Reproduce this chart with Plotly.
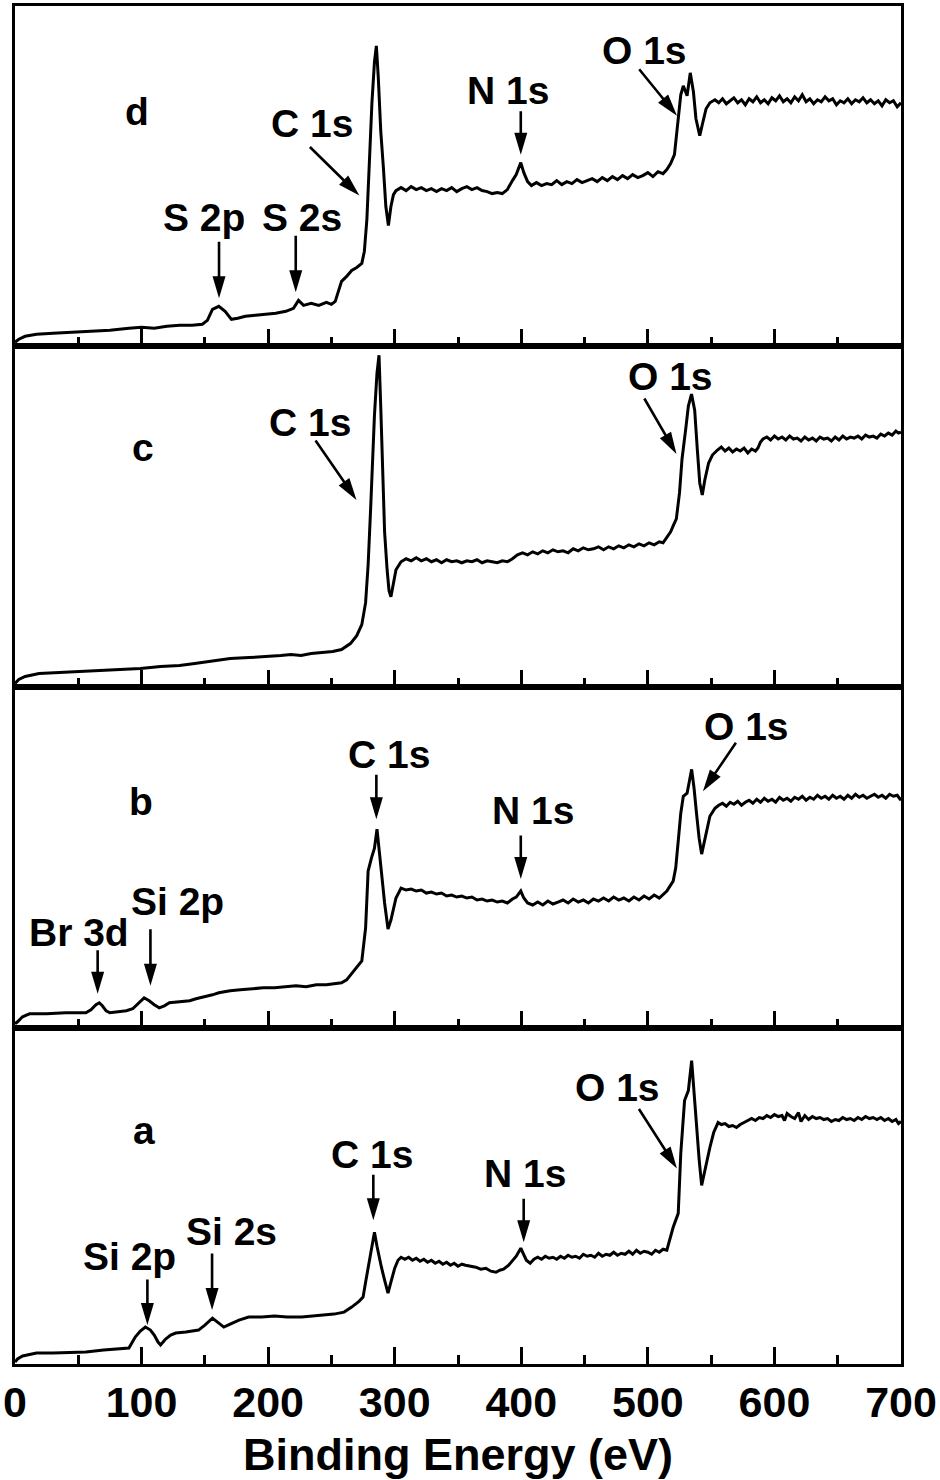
import math
import plotly.graph_objects as go
from plotly.subplots import make_subplots

# XPS survey spectra: (binding energy eV, intensity a.u.)
d_points = [
    (0, 4), (3, 7), (8, 10), (17, 12), (30, 13), (45, 14), (60, 15), (75, 16), (90, 18), (100, 19),
    (110, 18), (120, 20), (130, 21), (140, 21), (148, 22), (152, 26), (156, 37), (161, 40),
    (166, 35), (171, 27), (176, 28), (182, 30), (190, 31), (198, 32), (206, 33), (214, 35),
    (220, 38), (224, 46), (228, 41), (234, 43), (240, 41), (246, 44), (250, 42), (253, 45),
    (256, 58), (258, 65), (262, 70), (266, 76), (270, 79), (274, 83), (276, 95), (278, 127),
    (280, 185), (282, 244), (284, 285), (285.5, 301), (287, 270), (289, 215), (291, 180),
    (293, 140), (295, 121), (297, 140), (299, 152), (301, 156),
    (305, 159), (309, 156), (313, 160), (317, 157), (321, 159), (325, 156), (329, 158), (333, 155),
    (337, 158), (341, 156), (345, 159), (349, 155), (353, 158), (357, 160), (361, 157), (365, 159),
    (369, 156), (373, 155), (377, 153), (381, 154), (385, 153), (389, 157), (393, 166), (396, 172),
    (399.6, 184), (402, 174), (405, 165), (408, 161), (412, 164), (416, 161), (420, 163),
    (424, 162), (428, 166), (432, 162), (436, 165), (440, 163), (444, 167), (448, 164), (452, 166),
    (456, 168), (460, 165), (464, 169), (468, 166), (472, 170), (476, 167), (480, 171), (484, 168),
    (488, 172), (492, 169), (496, 171), (500, 174), (504, 170), (508, 175), (512, 173), (515, 177),
    (518, 183), (521, 192), (524, 231), (526, 252), (528, 261), (530, 254), (531, 251),
    (533.5, 274), (536, 255), (538, 228), (541, 211), (543, 222), (546, 238), (549, 244),
    (553, 247), (556, 244), (559, 248), (562, 243), (565, 246), (568, 249), (571, 244), (574, 247),
    (577, 242), (580, 248), (583, 245), (586, 250), (589, 244), (592, 247), (595, 243), (598, 249),
    (601, 246), (604, 251), (607, 245), (610, 248), (613, 244), (616, 250), (619, 246), (622, 252),
    (625, 245), (628, 248), (631, 243), (634, 247), (637, 245), (640, 250), (643, 246), (646, 248),
    (649, 242), (652, 246), (655, 244), (658, 248), (661, 243), (664, 247), (667, 245), (670, 249),
    (673, 244), (676, 247), (679, 243), (682, 246), (685, 241), (688, 247), (691, 244), (694, 246),
    (697, 240), (700, 244),
]

c_points = [
    (0, 4), (3, 8), (8, 11), (19, 14), (35, 15), (50, 16), (65, 17), (80, 18), (99, 19), (115, 21),
    (130, 22), (142, 24), (155, 26), (170, 29), (185, 30), (200, 31), (210, 32), (218, 33),
    (226, 32), (234, 34), (242, 35), (251, 36), (258, 38), (265, 44), (270, 52), (274, 63),
    (277, 85), (279, 123), (281, 180), (283, 240), (284, 273), (286, 315), (287.6, 333), (289, 280),
    (290.5, 215), (292, 156), (294, 118), (295.5, 97), (297, 91), (299, 105), (301, 118),
    (305, 126), (309, 129), (313, 127), (317, 130), (321, 127), (325, 129), (329, 126), (333, 128),
    (337, 125), (341, 128), (345, 126), (349, 127), (353, 125), (357, 127), (361, 126), (365, 128),
    (369, 125), (373, 127), (377, 126), (381, 125), (385, 127), (389, 126), (393, 129), (397, 133),
    (401, 135), (405, 133), (409, 136), (413, 134), (417, 137), (421, 135), (425, 138), (429, 136),
    (433, 137), (437, 135), (441, 139), (445, 137), (449, 140), (453, 138), (457, 139), (461, 141),
    (465, 138), (469, 141), (473, 139), (477, 142), (481, 140), (485, 143), (489, 141), (493, 144),
    (497, 142), (501, 145), (505, 143), (509, 146), (512, 145), (515, 150),
    (518, 156), (520, 162), (522.5, 169), (525, 195), (527, 229), (530, 260), (532, 282),
    (534.5, 294), (536, 285), (537, 278), (539, 240), (541, 205), (543, 193), (545, 208),
    (548, 225), (551, 233),
    (555, 238), (558, 241), (561, 237), (564, 240), (567, 236), (570, 239), (573, 237), (576, 240),
    (579, 235), (582, 239), (585, 237), (587, 240), (589, 246), (591, 249), (594, 251), (597, 248),
    (600, 252), (603, 249), (606, 251), (609, 248), (612, 252), (615, 249), (618, 250), (621, 247),
    (624, 251), (627, 248), (630, 250), (633, 247), (636, 251), (639, 249), (642, 250), (645, 247),
    (648, 251), (651, 248), (654, 252), (657, 249), (660, 251), (663, 250), (666, 252), (669, 249),
    (672, 253), (675, 251), (678, 252), (681, 250), (684, 254), (687, 252), (690, 255), (693, 253),
    (696, 257), (698, 255), (700, 256),
]

b_points = [
    (0, 4), (2, 6), (6, 11), (11.5, 14), (25, 14), (40, 15), (56, 15), (60, 18), (64, 23),
    (66.6, 25), (69, 22), (72, 17), (75, 15), (82, 16), (88, 17), (93, 19), (97, 24), (102, 30),
    (106, 27), (110, 23), (114, 20), (118, 22), (122, 25), (130, 26), (138, 27), (143, 29),
    (150, 31), (156, 33), (161, 35), (170, 37), (178, 38), (187, 39), (196, 40), (205, 40),
    (214, 41), (222, 42), (230, 41), (238, 43), (246, 43), (252, 44), (258, 45), (262, 48),
    (266, 54), (270, 60), (274, 67), (277, 100), (279, 157), (281.6, 170), (284, 180), (286, 199),
    (288, 177), (290, 150), (292, 125), (294.7, 99), (297, 108), (299, 120), (301, 130),
    (305, 140), (309, 138), (313, 139), (317, 137), (321, 138), (325, 135), (329, 136), (333, 134),
    (337, 135), (341, 132), (345, 133), (349, 131), (353, 132), (357, 130), (361, 131), (365, 128),
    (369, 129), (373, 127), (377, 128), (381, 126), (385, 127), (389, 125), (393, 129), (396, 131),
    (399.6, 137), (402, 130), (405, 125), (409, 123), (413, 126), (417, 123), (421, 127),
    (425, 124), (429, 126), (433, 128), (437, 125), (441, 129), (445, 126), (449, 128), (453, 125),
    (457, 129), (461, 127), (465, 130), (469, 127), (473, 131), (477, 128), (481, 130), (485, 127),
    (489, 131), (493, 128), (497, 132), (501, 129), (505, 133), (509, 130), (512, 134), (515, 137),
    (520, 147), (522, 160), (524, 187), (526, 215), (528, 232), (531, 235), (534.6, 259),
    (536.5, 240), (538.5, 214), (540.5, 190), (542.5, 174), (545, 190), (549, 212),
    (553, 220), (556, 223), (559, 225), (562, 222), (565, 226), (568, 224), (571, 227), (574, 223),
    (577, 226), (580, 228), (583, 225), (586, 229), (589, 226), (592, 230), (595, 227), (598, 229),
    (601, 226), (604, 231), (607, 228), (610, 230), (613, 227), (616, 231), (619, 229), (622, 232),
    (625, 228), (628, 231), (631, 229), (634, 233), (637, 230), (640, 232), (643, 229), (646, 233),
    (649, 230), (652, 232), (655, 229), (658, 233), (661, 230), (664, 234), (667, 231), (670, 233),
    (673, 230), (676, 232), (679, 234), (682, 231), (685, 233), (688, 230), (691, 234), (694, 232),
    (697, 233), (700, 228),
]

a_points = [
    (0, 2), (2, 5), (6, 8), (17, 11), (30, 11), (45, 12), (56, 12), (70, 14), (80, 15), (90, 16),
    (95, 27), (99, 33), (103, 37), (107, 34), (110, 29), (113, 22), (115, 19), (119, 25),
    (123, 29), (127, 31), (135, 32), (145, 34), (150, 39), (156, 46), (160, 42), (165, 37),
    (170, 40), (177, 44), (184.6, 47), (195, 47), (205, 48), (215, 47), (226.5, 47), (236, 48),
    (245, 49), (252, 50), (260, 52), (266, 57), (272, 63), (275, 67), (277, 82), (279, 97),
    (282, 120), (284, 132), (286, 118), (288, 104), (289.5, 97), (292, 84), (294.7, 71), (297, 82),
    (300, 96),
    (302.6, 104), (305, 107), (308, 105), (311, 107), (314, 104), (317, 106), (320, 103),
    (323, 105), (326, 102), (329, 104), (332, 101), (335, 103), (338, 100), (341, 102), (344, 99),
    (347, 101), (350, 98), (353, 100), (356, 99), (360, 98), (364, 97), (368, 95), (372, 96),
    (376, 93), (380, 92), (383, 94), (386, 95), (390, 99), (393, 103), (396, 108), (399.6, 116),
    (402, 109), (404, 104), (407, 101), (410, 105), (413, 107), (416, 105), (419, 108), (422, 106),
    (425, 107), (428, 105), (431, 108), (434, 106), (437, 109), (440, 107), (443, 108), (446, 106),
    (449, 110), (452, 108), (455, 109), (458, 107), (461, 111), (464, 108), (467, 110), (470, 109),
    (473, 112), (476, 109), (479, 111), (482, 110), (485, 113), (488, 110), (491, 114), (494, 111),
    (497, 113), (500, 112), (503, 110), (506, 114), (509, 112), (512, 115), (515, 114),
    (518, 128), (520, 137), (524, 151), (526, 211), (529, 264), (532, 274), (534.6, 304),
    (536.5, 270), (538.5, 234), (540.5, 205), (542.5, 179), (546, 200), (549, 217), (552, 232),
    (555.5, 242), (558, 240), (561, 241), (564, 238), (567, 239), (570, 237), (573, 240), (576, 242),
    (579, 244), (582, 246), (585, 244), (588, 247), (591, 246), (594, 249), (597, 247), (600, 250),
    (603, 248), (606, 249), (608, 244), (610, 251), (613, 248), (616, 246), (619, 252), (621, 243),
    (624, 249), (627, 245), (630, 248), (633, 246), (636, 247), (639, 245), (642, 246), (645, 243),
    (648, 245), (651, 244), (654, 247), (657, 245), (660, 246), (663, 244), (666, 247), (669, 245),
    (672, 248), (675, 246), (678, 247), (681, 245), (684, 247), (687, 244), (690, 246), (693, 243),
    (696, 245), (698, 241), (700, 243),
]

panels = [("d", d_points), ("c", c_points), ("b", b_points), ("a", a_points)]

# panel letters and peak labels: (row, text, x, y)
letters = [(1, "d", 96.7, 235), (2, "c", 101.5, 241), (3, "b", 99.9, 227), (4, "a", 102.2, 234)]
labels = [
    (1, "S 2p", 149.4, 129), (1, "S 2s", 226.5, 129), (1, "C 1s", 234.4, 223),
    (1, "N 1s", 389.3, 256), (1, "O 1s", 497.1, 296),
    (2, "C 1s", 232.8, 266), (2, "O 1s", 517.5, 312),
    (3, "Br 3d", 50.3, 95), (3, "Si 2p", 128.2, 127), (3, "C 1s", 295.7, 274),
    (3, "N 1s", 409.0, 218), (3, "O 1s", 578.1, 302),
    (4, "Si 2p", 90.4, 108), (4, "Si 2s", 170.7, 133), (4, "C 1s", 282.4, 210),
    (4, "N 1s", 402.7, 191), (4, "O 1s", 475.8, 277),
]
# arrows: (row, tip x, tip y, tail dx px, tail dy px)
arrows = [
    (1, 161.2, 48, 0, -58), (1, 221.8, 54, 0, -58), (1, 272.1, 151, -51, -50),
    (1, 399.6, 192, 0, -45), (1, 523.0, 231, -39, -48),
    (2, 269.8, 188, -42, -61), (2, 522.6, 234, -33, -57),
    (3, 65.3, 34, 0, -45), (3, 107.0, 42, 0, -58), (3, 285.5, 209, 0, -46),
    (3, 399.6, 149, 0, -45), (3, 543.5, 237, 34, -50),
    (4, 104.6, 39, 0, -47), (4, 155.7, 54, 0, -58), (4, 283.1, 144, 0, -47),
    (4, 401.9, 122, 0, -45), (4, 523.0, 196, -39, -61),
]

# panel heights in px (top to bottom), y range equals pixel height
heights = [341, 342, 341, 337]

FONT = "Liberation Sans, Arial, Helvetica, sans-serif"

fig = make_subplots(rows=4, cols=1, shared_xaxes=True, vertical_spacing=0)

for i, (name, pts) in enumerate(panels):
    ev = [p[0] for p in pts]
    inten = [p[1] for p in pts]
    fig.add_trace(go.Scatter(x=ev, y=inten, mode="lines", name=name,
                             line=dict(color="black", width=3)), row=i + 1, col=1)

total = sum(heights)
top = 1.0
for i, h in enumerate(heights):
    bottom = top - h / total
    fig.update_yaxes(domain=[max(bottom, 0), top], range=[0, h], row=i + 1, col=1)
    top = bottom

fig.update_yaxes(showticklabels=False, ticks="", showgrid=False, zeroline=False,
                 showline=True, linecolor="black", linewidth=3, mirror=True)
fig.update_xaxes(range=[0, 700], dtick=100, tick0=0, ticks="inside", ticklen=17, tickwidth=2.5,
                 tickcolor="black", showgrid=False, zeroline=False,
                 showline=True, linecolor="black", linewidth=3, mirror=True,
                 minor=dict(dtick=50, tick0=0, ticks="inside", ticklen=9, tickwidth=2.5,
                            tickcolor="black", showgrid=False),
                 tickfont=dict(family=FONT, size=43, color="black", weight="bold"))
fig.update_xaxes(title=dict(text="Binding Energy (eV)", standoff=14,
                            font=dict(family=FONT, size=45, color="black", weight="bold")),
                 ticklabelstandoff=-2, row=4, col=1)

for row, t, x, y in letters + labels:
    fig.add_annotation(x=x, y=y, xref="x%d" % row if row > 1 else "x",
                       yref="y%d" % row if row > 1 else "y", text=t, showarrow=False,
                       xanchor="center", yanchor="middle",
                       font=dict(family=FONT, size=39, color="black", weight="bold"))

HEAD_L, HEAD_W = 22, 6.5
for row, x, y, dx, dy in arrows:
    xr = "x%d" % row if row > 1 else "x"
    yr = "y%d" % row if row > 1 else "y"
    fig.add_annotation(x=x, y=y, xref=xr, yref=yr, ax=dx, ay=dy, text="", showarrow=True,
                       arrowhead=0, arrowwidth=2.6, arrowcolor="black", standoff=HEAD_L - 4)
    # filled head drawn in pixels around the tip (y up)
    n = math.hypot(dx, dy)
    ux, uy = -dx / n, dy / n
    px, py = -uy, ux
    bx, by = -ux * HEAD_L, -uy * HEAD_L
    path = "M 0 0 L %.1f %.1f L %.1f %.1f Z" % (bx + px * HEAD_W, by + py * HEAD_W,
                                              bx - px * HEAD_W, by - py * HEAD_W)
    fig.add_shape(type="path", xref=xr, yref=yr, xsizemode="pixel", ysizemode="pixel",
                  xanchor=x, yanchor=y, path=path, fillcolor="black", line=dict(width=0))

fig.update_layout(width=940, height=1480, showlegend=False,
                  margin=dict(l=12, r=38, t=3, b=116),
                  plot_bgcolor="white", paper_bgcolor="white")

fig.write_html("out.html", config={"displayModeBar": False},
               post_script="document.body.style.margin='0';")
